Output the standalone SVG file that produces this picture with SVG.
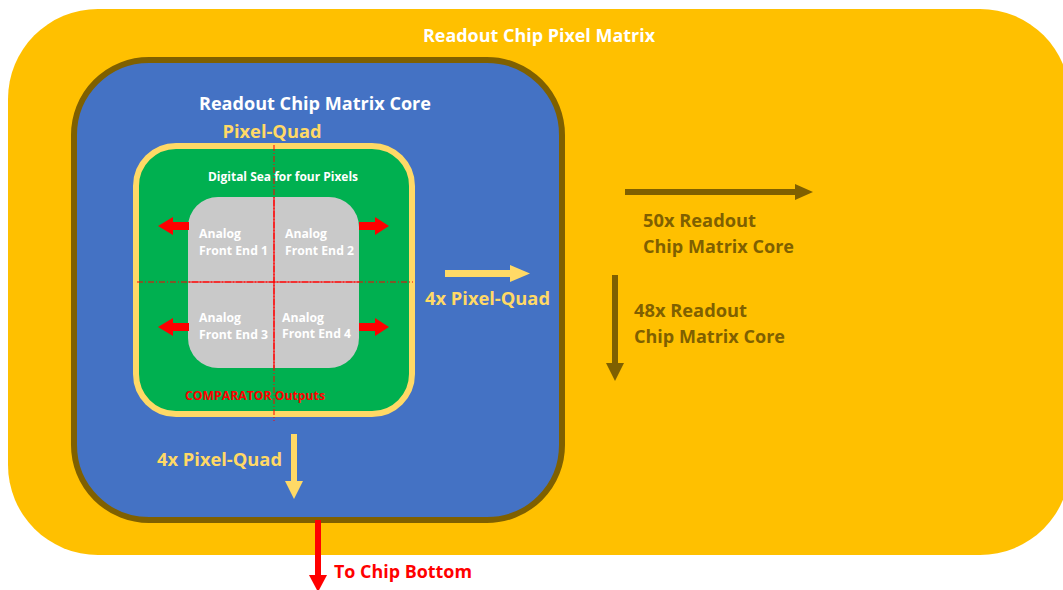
<svg xmlns="http://www.w3.org/2000/svg" width="1063" height="590" viewBox="0 0 1063 590">
<style>
text{font-family:"Open Sans","Liberation Sans",sans-serif;font-weight:bold}
.w{fill:#FFFFFF}
.py{fill:#FFD966}
.br{fill:#7F6000}
.rd{fill:#FF0000}
.t18{font-size:17px}
.t12{font-size:11.5px}
.t13{font-size:12.5px}
.dd{stroke:#FF0000;stroke-width:1;stroke-dasharray:6 2 1 2;fill:none}
.sl{stroke:#FF0000;stroke-width:1.2;fill:none}
</style>
<rect width="1063" height="590" fill="#FFFFFF"/>
<g id="pixel-matrix">
<rect x="8" y="9" width="1062" height="546" rx="90" ry="90" fill="#FFC000"/>
<text class="w t18" x="539" y="42" text-anchor="middle" textLength="232" lengthAdjust="spacingAndGlyphs">Readout Chip Pixel Matrix</text>
</g>
<g id="matrix-core">
<rect x="74" y="60" width="488" height="460" rx="75" ry="75" fill="#4472C4" stroke="#7F6000" stroke-width="6"/>
<text class="w t18" x="315" y="110" text-anchor="middle" textLength="232" lengthAdjust="spacingAndGlyphs">Readout Chip Matrix Core</text>
</g>
<g id="pixel-quad">
<text class="py t18" x="272" y="138" text-anchor="middle" textLength="99" lengthAdjust="spacingAndGlyphs">Pixel-Quad</text>
<rect x="136" y="146" width="276" height="268" rx="40" ry="40" fill="#00B050" stroke="#FFD966" stroke-width="6"/>
<text class="w t12" x="283" y="181" text-anchor="middle" textLength="150" lengthAdjust="spacingAndGlyphs">Digital Sea for four Pixels</text>
<text class="rd t12" x="255" y="400" text-anchor="middle" textLength="140" lengthAdjust="spacingAndGlyphs">COMPARATOR Outputs</text>
</g>
<g id="afe-block">
<rect x="188" y="197" width="171" height="171" rx="30" ry="30" fill="#C9C9C9"/>
<line class="dd" x1="274" y1="145" x2="274" y2="421"/>
<line class="dd" x1="137" y1="282" x2="413" y2="282"/>
<line class="sl" x1="274" y1="197" x2="274" y2="368"/>
<line class="sl" x1="188" y1="282" x2="359" y2="282"/>
</g>
<g id="afe1">
<text class="w t13" x="199" y="238" textLength="42" lengthAdjust="spacingAndGlyphs">Analog</text>
<text class="w t13" x="199" y="255" textLength="69" lengthAdjust="spacingAndGlyphs">Front End 1</text>
</g>
<g id="afe2">
<text class="w t13" x="285" y="238" textLength="42" lengthAdjust="spacingAndGlyphs">Analog</text>
<text class="w t13" x="285" y="255" textLength="69" lengthAdjust="spacingAndGlyphs">Front End 2</text>
</g>
<g id="afe3">
<text class="w t13" x="199" y="322" textLength="42" lengthAdjust="spacingAndGlyphs">Analog</text>
<text class="w t13" x="199" y="339" textLength="69" lengthAdjust="spacingAndGlyphs">Front End 3</text>
</g>
<g id="afe4">
<text class="w t13" x="282" y="322" textLength="42" lengthAdjust="spacingAndGlyphs">Analog</text>
<text class="w t13" x="282" y="338" textLength="69" lengthAdjust="spacingAndGlyphs">Front End 4</text>
</g>
<g id="connectors">
<g fill="#FF0000">
<rect x="172" y="222" width="17" height="8"/><polygon points="158,226 173,217 173,235"/>
<rect x="359" y="222" width="17" height="8"/><polygon points="375,217 389,226 375,235"/>
<rect x="172" y="323" width="17" height="8"/><polygon points="158,327 173,318 173,336"/>
<rect x="359" y="323" width="17" height="8"/><polygon points="375,318 389,327 375,336"/>
<rect x="315" y="520" width="6" height="57"/><polygon points="309,575 318,592 327,575"/>
</g>
<g fill="#FFD966">
<rect x="445" y="270" width="66" height="7"/><polygon points="510,265 530,273.5 510,282"/>
<rect x="291" y="434" width="6" height="48"/><polygon points="285,481 294,499 303,481"/>
</g>
<g fill="#7F6000">
<rect x="625" y="189" width="171" height="6"/><polygon points="795,184 813,192 795,200"/>
<rect x="612" y="275" width="6" height="89"/><polygon points="606,363 615,381 624,363"/>
</g>
</g>
<g id="labels">
<text class="py t18" x="425" y="305" textLength="125" lengthAdjust="spacingAndGlyphs">4x Pixel-Quad</text>
<text class="py t18" x="157" y="466" textLength="125" lengthAdjust="spacingAndGlyphs">4x Pixel-Quad</text>
<text class="br t18" x="643" y="227" textLength="113" lengthAdjust="spacingAndGlyphs">50x Readout</text>
<text class="br t18" x="643" y="253" textLength="151" lengthAdjust="spacingAndGlyphs">Chip Matrix Core</text>
<text class="br t18" x="634" y="317" textLength="113" lengthAdjust="spacingAndGlyphs">48x Readout</text>
<text class="br t18" x="634" y="343" textLength="151" lengthAdjust="spacingAndGlyphs">Chip Matrix Core</text>
<text class="rd t18" x="334" y="578" textLength="138" lengthAdjust="spacingAndGlyphs">To Chip Bottom</text>
</g>
</svg>
